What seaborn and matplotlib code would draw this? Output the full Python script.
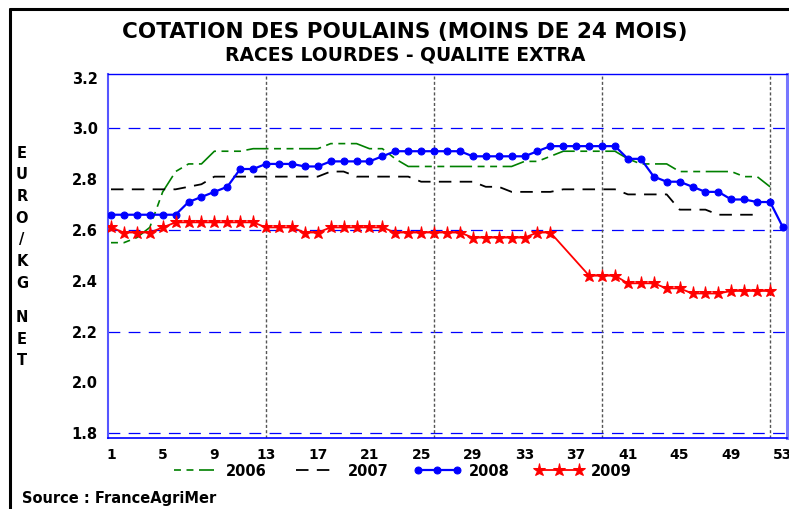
import numpy as np
import pandas as pd
import matplotlib
matplotlib.use('Agg')
import matplotlib.pyplot as plt
from matplotlib.lines import Line2D
from matplotlib.ticker import MultipleLocator, FixedLocator
import seaborn as sns

# 1. Data (weekly price, euro / kg net)
weeks = list(range(1, 54))

nan = np.nan
price_2006 = [2.55, 2.55, 2.57, 2.61, 2.75, 2.83, 2.86, 2.86, 2.91, 2.91,
              2.91, 2.92, 2.92, 2.92, 2.92, 2.92, 2.92, 2.94, 2.94, 2.94,
              2.92, 2.92, 2.88, 2.85, 2.85, 2.85, 2.85, 2.85, 2.85, 2.85,
              2.85, 2.85, 2.87, 2.87, 2.89, 2.91, 2.91, 2.91, 2.91, 2.91,
              2.88, 2.86, 2.86, 2.86, 2.83, 2.83, 2.83, 2.83, 2.83, 2.81,
              2.81, 2.77, nan]
price_2007 = [2.76, 2.76, 2.76, 2.76, 2.76, 2.76, 2.77, 2.78, 2.81, 2.81,
              2.81, 2.81, 2.81, 2.81, 2.81, 2.81, 2.81, 2.83, 2.83, 2.81,
              2.81, 2.81, 2.81, 2.81, 2.79, 2.79, 2.79, 2.79, 2.79, 2.77,
              2.77, 2.75, 2.75, 2.75, 2.75, 2.76, 2.76, 2.76, 2.76, 2.76,
              2.74, 2.74, 2.74, 2.74, 2.68, 2.68, 2.68, 2.66, 2.66, 2.66,
              2.66, nan, nan]
price_2008 = [2.66, 2.66, 2.66, 2.66, 2.66, 2.66, 2.71, 2.73, 2.75, 2.77,
              2.84, 2.84, 2.86, 2.86, 2.86, 2.85, 2.85, 2.87, 2.87, 2.87,
              2.87, 2.89, 2.91, 2.91, 2.91, 2.91, 2.91, 2.91, 2.89, 2.89,
              2.89, 2.89, 2.89, 2.91, 2.93, 2.93, 2.93, 2.93, 2.93, 2.93,
              2.88, 2.88, 2.81, 2.79, 2.79, 2.77, 2.75, 2.75, 2.72, 2.72,
              2.71, 2.71, 2.61]
price_2009 = [2.61, 2.59, 2.59, 2.59, 2.61, 2.63, 2.63, 2.63, 2.63, 2.63,
              2.63, 2.63, 2.61, 2.61, 2.61, 2.59, 2.59, 2.61, 2.61, 2.61,
              2.61, 2.61, 2.59, 2.59, 2.59, 2.59, 2.59, 2.59, 2.57, 2.57,
              2.57, 2.57, 2.57, 2.59, 2.59, nan, nan, 2.42, 2.42, 2.42,
              2.39, 2.39, 2.39, 2.37, 2.37, 2.35, 2.35, 2.35, 2.36, 2.36,
              2.36, 2.36, nan]

hgrid_values = [1.8, 2.2, 2.6, 3.0]
quarter_weeks = [13, 26, 39, 52]

df = pd.DataFrame({'week': weeks, '2006': price_2006, '2007': price_2007,
                   '2008': price_2008, '2009': price_2009})

# 2. Style
sns.set_style('white')
plt.rcParams['font.family'] = ['DejaVu Sans']
plt.rcParams['font.weight'] = 'bold'
plt.rcParams['text.color'] = 'black'
plt.rcParams['xtick.labelcolor'] = 'black'
plt.rcParams['ytick.labelcolor'] = 'black'
plt.rcParams['lines.scale_dashes'] = False

W, H = 789, 509
fig = plt.figure(figsize=(W / 100, H / 100), dpi=100)
ax = fig.add_axes([108 / W, 1 - 438 / H, (787 - 108) / W, (438 - 73.5) / H])

# 3. Series
styles = {
    '2006': dict(color='#008000', linestyle=(0, (5, 4, 5, 4, 16, 4)), linewidth=1.2),
    '2007': dict(color='black', linestyle=(0, (9, 6)), linewidth=1.3),
    '2008': dict(color='#0000FF', linestyle='-', linewidth=1.6,
                 marker='o', markersize=5, markeredgecolor='#0000FF'),
    '2009': dict(color='#FF0000', linestyle='-', linewidth=1.3,
                 marker='*', markersize=9.5, markeredgecolor='#FF0000'),
}
for year, kw in styles.items():
    sub = df[['week', year]].dropna()
    sns.lineplot(data=sub, x='week', y=year, estimator=None, ax=ax,
                 label=year, zorder=3, **kw)

# 4. Reference lines
for v in hgrid_values:
    ax.axhline(v, color='#0000FF', linewidth=0.9, linestyle=(0, (8.5, 6)), zorder=1)
for w in quarter_weeks:
    ax.axvline(w, color='#555555', linewidth=1.0, linestyle=(0, (2.2, 1.6)), zorder=1)

# 5. Axes, ticks, spines
ax.set_xlim(0.768, 53.31)
ax.set_ylim(1.781, 3.216)
ax.xaxis.set_major_locator(FixedLocator(list(range(1, 54, 4))))
ax.xaxis.set_minor_locator(MultipleLocator(1))
ax.yaxis.set_major_locator(FixedLocator([1.8, 2.0, 2.2, 2.4, 2.6, 2.8, 3.0, 3.2]))
ax.yaxis.set_minor_locator(MultipleLocator(0.05))
ax.yaxis.set_major_formatter(lambda v, p: f'{v:.1f}')
ax.tick_params(which='major', direction='out', length=5, width=1,
               color='#0000FF', labelcolor='black', labelsize=10.5, pad=2.5)
ax.tick_params(which='minor', direction='out', length=2.5, width=1, color='#0000FF')
ax.tick_params(axis='x', labelsize=10)
for lab in ax.get_xticklabels() + ax.get_yticklabels():
    lab.set_fontweight('bold')
ax.set_xlabel('')
ax.set_ylabel('')

ax.spines['left'].set_color('#5555FF')
ax.spines['left'].set_linewidth(1.5)
ax.spines['top'].set_color('#0000FF')
ax.spines['top'].set_linewidth(1.0)
ax.spines['bottom'].set_color('#0000FF')
ax.spines['bottom'].set_linewidth(1.2)
ax.spines['right'].set_color('#7777FF')
ax.spines['right'].set_linewidth(2.2)

# 6. Legend
ax.get_legend().remove()
handles, labels = ax.get_legend_handles_labels()
leg = fig.legend(handles, labels, loc='center', bbox_to_anchor=(0.508, 1 - 471 / H),
                 ncol=4, frameon=False, numpoints=3, handlelength=3.3,
                 handletextpad=0.55, columnspacing=1.7,
                 prop={'weight': 'bold', 'size': 10.5})
for t in leg.get_texts():
    t.set_color('black')

# 7. Titles and labels
fig.text(405 / W, 1 - 32 / H, 'COTATION DES POULAINS (MOINS DE 24 MOIS)',
         ha='center', va='center', fontsize=15.5, fontweight='bold', color='black')
fig.text(405 / W, 1 - 55 / H, 'RACES LOURDES - QUALITE EXTRA',
         ha='center', va='center', fontsize=13.5, fontweight='bold', color='black')

for i, ch in enumerate('EURO/KG'):
    fig.text(22 / W, 1 - (153 + i * 21.7) / H, ch, ha='center', va='center',
             fontsize=10.5, fontweight='bold', color='black')
for i, ch in enumerate('NET'):
    fig.text(22 / W, 1 - (318 + i * 21.3) / H, ch, ha='center', va='center',
             fontsize=10.5, fontweight='bold', color='black')

fig.text(22 / W, 1 - 498 / H, 'Source : FranceAgriMer', ha='left', va='center',
         fontsize=10.5, fontweight='bold', color='black')

# 8. Outer frame (top and left edges)
fig.add_artist(Line2D([10 / W, 10 / W], [0, 1 - 9 / H], color='black', linewidth=2.2,
                      transform=fig.transFigure))
fig.add_artist(Line2D([10 / W, 1], [1 - 9 / H, 1 - 9 / H], color='black', linewidth=2.2,
                      transform=fig.transFigure))

fig.savefig('out.png', dpi=100)
